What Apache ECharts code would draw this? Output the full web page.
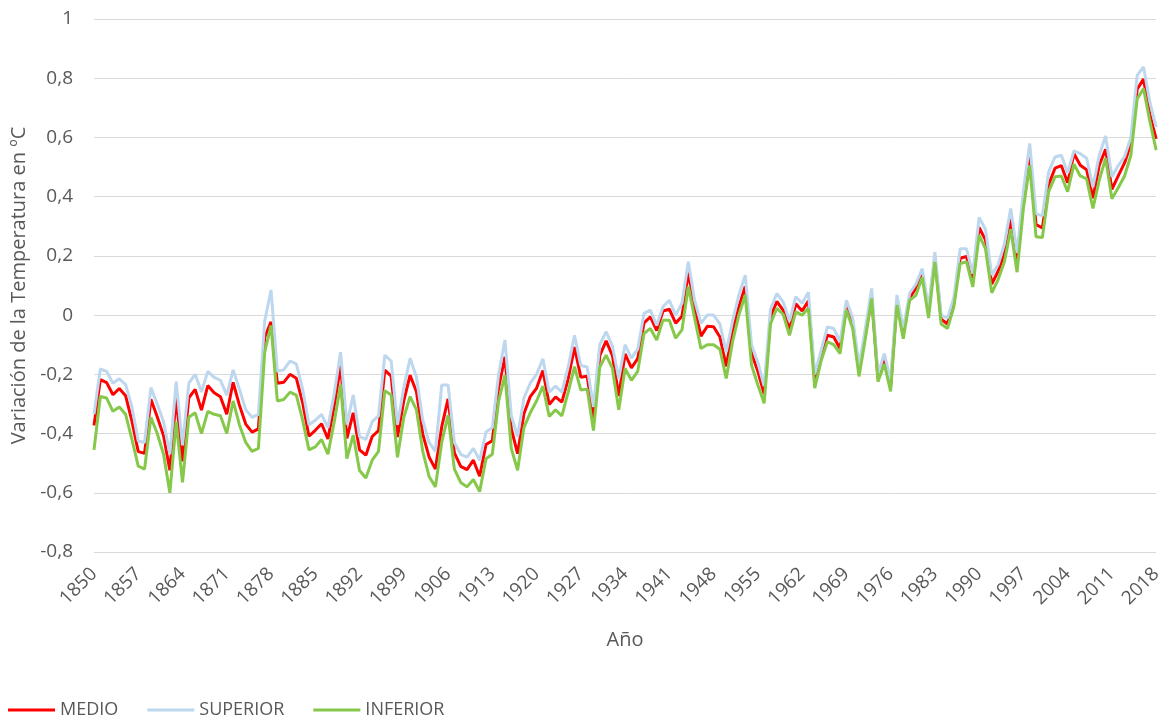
<!DOCTYPE html>
<html>
<head>
<meta charset="utf-8">
<script src="https://cdn.jsdelivr.net/npm/echarts@6/dist/echarts.min.js"></script>
<style>
html,body{margin:0;padding:0;background:#fff;}
#chart{width:1165px;height:719px;}
</style>
</head>
<body>
<div id="chart"></div>
<script>
const startYear = 1850;
const endYear = 2018;
const years = [];
for (let y = startYear; y <= endYear; y++) years.push(y);

const medio = [
-0.373,-0.218,-0.228,-0.269,-0.248,-0.272,-0.358,-0.461,-0.467,-0.284,
-0.343,-0.407,-0.524,-0.278,-0.494,-0.279,-0.251,-0.321,-0.238,-0.262,
-0.276,-0.335,-0.227,-0.304,-0.368,-0.395,-0.384,-0.075,-0.023,-0.230,
-0.227,-0.200,-0.213,-0.296,-0.409,-0.389,-0.367,-0.418,-0.307,-0.171,
-0.416,-0.330,-0.455,-0.473,-0.410,-0.390,-0.186,-0.206,-0.412,-0.289,
-0.203,-0.259,-0.402,-0.479,-0.520,-0.377,-0.283,-0.465,-0.511,-0.522,
-0.490,-0.544,-0.437,-0.424,-0.244,-0.141,-0.383,-0.468,-0.333,-0.275,
-0.247,-0.187,-0.302,-0.276,-0.294,-0.215,-0.108,-0.210,-0.206,-0.350,
-0.137,-0.087,-0.137,-0.273,-0.131,-0.178,-0.147,-0.026,-0.006,-0.052,
0.014,0.020,-0.027,-0.004,0.144,0.025,-0.071,-0.038,-0.039,-0.074,
-0.173,-0.052,0.028,0.097,-0.129,-0.190,-0.267,-0.007,0.046,0.017,
-0.049,0.038,0.014,0.048,-0.223,-0.140,-0.068,-0.074,-0.113,0.032,
-0.027,-0.186,-0.065,0.062,-0.214,-0.149,-0.241,0.047,-0.062,0.057,
0.092,0.140,0.011,0.194,-0.014,-0.030,0.045,0.192,0.198,0.118,
0.296,0.254,0.105,0.148,0.208,0.325,0.183,0.390,0.539,0.306,
0.294,0.441,0.496,0.505,0.447,0.545,0.506,0.491,0.395,0.506,
0.560,0.425,0.470,0.514,0.579,0.763,0.797,0.677,0.595
];

const superior = [
-0.335,-0.182,-0.190,-0.230,-0.215,-0.235,-0.310,-0.425,-0.430,-0.245,
-0.300,-0.360,-0.470,-0.225,-0.440,-0.230,-0.200,-0.260,-0.190,-0.210,
-0.220,-0.270,-0.185,-0.250,-0.320,-0.345,-0.335,-0.020,0.085,-0.190,
-0.185,-0.155,-0.165,-0.250,-0.370,-0.355,-0.335,-0.380,-0.265,-0.125,
-0.370,-0.270,-0.410,-0.420,-0.360,-0.340,-0.135,-0.155,-0.370,-0.245,
-0.146,-0.210,-0.355,-0.430,-0.460,-0.236,-0.236,-0.430,-0.470,-0.480,
-0.450,-0.490,-0.395,-0.380,-0.200,-0.084,-0.340,-0.410,-0.280,-0.230,
-0.200,-0.148,-0.260,-0.240,-0.260,-0.175,-0.068,-0.170,-0.175,-0.310,
-0.100,-0.056,-0.105,-0.214,-0.100,-0.145,-0.115,0.006,0.017,-0.035,
0.028,0.050,0.000,0.040,0.180,0.050,-0.028,0.000,0.000,-0.030,
-0.124,-0.020,0.068,0.135,-0.100,-0.160,-0.240,0.020,0.073,0.045,
-0.020,0.062,0.040,0.077,-0.200,-0.120,-0.040,-0.045,-0.090,0.050,
-0.010,-0.170,-0.045,0.090,-0.200,-0.130,-0.220,0.068,-0.045,0.073,
0.105,0.157,0.025,0.213,0.000,-0.010,0.060,0.224,0.224,0.140,
0.330,0.290,0.135,0.170,0.240,0.360,0.210,0.420,0.580,0.343,
0.335,0.484,0.534,0.540,0.480,0.555,0.545,0.530,0.433,0.540,
0.605,0.467,0.505,0.535,0.600,0.810,0.838,0.720,0.635
];

const inferior = [
-0.455,-0.275,-0.280,-0.325,-0.310,-0.335,-0.420,-0.510,-0.520,-0.345,
-0.400,-0.470,-0.600,-0.360,-0.565,-0.345,-0.330,-0.400,-0.325,-0.335,
-0.340,-0.400,-0.290,-0.370,-0.430,-0.460,-0.450,-0.125,-0.035,-0.290,
-0.285,-0.260,-0.270,-0.355,-0.455,-0.445,-0.420,-0.470,-0.360,-0.235,
-0.485,-0.405,-0.525,-0.550,-0.490,-0.460,-0.255,-0.270,-0.480,-0.345,
-0.275,-0.320,-0.460,-0.545,-0.580,-0.430,-0.338,-0.520,-0.565,-0.580,
-0.555,-0.596,-0.485,-0.470,-0.290,-0.203,-0.450,-0.524,-0.380,-0.330,
-0.290,-0.240,-0.342,-0.320,-0.340,-0.260,-0.174,-0.253,-0.250,-0.390,
-0.175,-0.135,-0.180,-0.320,-0.180,-0.220,-0.190,-0.062,-0.045,-0.084,
-0.017,-0.017,-0.078,-0.050,0.097,-0.010,-0.113,-0.100,-0.100,-0.115,
-0.214,-0.090,0.000,0.068,-0.169,-0.236,-0.298,-0.030,0.023,0.003,
-0.068,0.011,0.000,0.023,-0.247,-0.155,-0.090,-0.100,-0.130,0.017,
-0.045,-0.207,-0.080,0.056,-0.225,-0.165,-0.258,0.034,-0.080,0.050,
0.067,0.128,-0.010,0.180,-0.030,-0.045,0.028,0.174,0.180,0.095,
0.270,0.225,0.075,0.120,0.180,0.290,0.145,0.360,0.506,0.265,
0.262,0.417,0.467,0.470,0.417,0.510,0.470,0.460,0.360,0.456,
0.530,0.393,0.430,0.470,0.540,0.730,0.765,0.655,0.557
];

const FONT = '"Open Sans", "Liberation Sans", sans-serif';
const TXT = '#595959';
const pairs = arr => years.map((y, i) => [y, arr[i]]);

const chart = echarts.init(document.getElementById('chart'), null, {renderer: 'canvas'});
chart.setOption({
  animation: false,
  backgroundColor: '#ffffff',
  grid: {left: 94, right: 8, top: 19, bottom: 167},
  legend: {
    left: 8, top: 701, padding: 0,
    icon: 'rect', itemWidth: 47, itemHeight: 3, itemGap: 29,
    textStyle: {fontFamily: FONT, fontSize: 18, color: TXT},
    data: ['MEDIO', 'SUPERIOR', 'INFERIOR']
  },
  xAxis: {
    type: 'value',
    min: startYear, max: endYear, interval: 7,
    name: 'Año',
    nameLocation: 'middle',
    nameGap: 78,
    nameTextStyle: {fontFamily: FONT, fontSize: 20, color: TXT},
    axisLine: {show: false},
    axisTick: {show: false},
    splitLine: {show: false},
    axisLabel: {rotate: 45, fontFamily: FONT, fontSize: 19, color: TXT, margin: 19,
      formatter: v => String(v), showMinLabel: true, showMaxLabel: true}
  },
  yAxis: {
    type: 'value',
    min: -0.8, max: 1, interval: 0.2,
    name: 'Variación de la Temperatura en ºC',
    nameLocation: 'middle',
    nameGap: 58,
    nameTextStyle: {fontFamily: FONT, fontSize: 20, color: TXT},
    axisLine: {show: false},
    axisTick: {show: false},
    splitLine: {lineStyle: {color: '#d9d9d9', width: 1}},
    axisLabel: {
      fontFamily: FONT, fontSize: 19, color: TXT, margin: 21,
      formatter: v => String(Number(v.toFixed(1))).replace('.', ',')
    }
  },
  series: [
    {name: 'MEDIO', type: 'line', data: pairs(medio), symbol: 'none', lineStyle: {color: '#ff0000', width: 3}, itemStyle: {color: '#ff0000'}},
    {name: 'SUPERIOR', type: 'line', data: pairs(superior), symbol: 'none', lineStyle: {color: '#bdd7ee', width: 3}, itemStyle: {color: '#bdd7ee'}},
    {name: 'INFERIOR', type: 'line', data: pairs(inferior), symbol: 'none', lineStyle: {color: '#86c84a', width: 3}, itemStyle: {color: '#86c84a'}}
  ]
});
</script>
</body>
</html>
